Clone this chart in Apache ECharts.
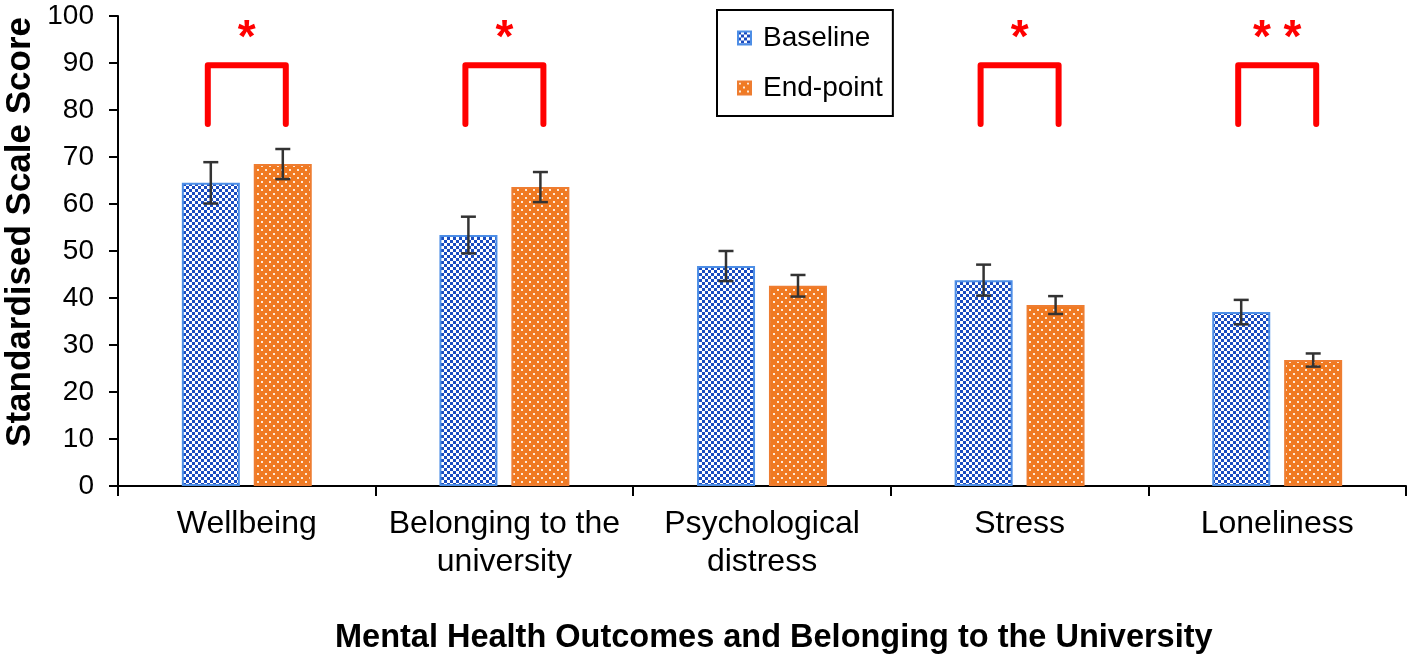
<!DOCTYPE html>
<html>
<head>
<meta charset="utf-8">
<title>Mental Health Outcomes</title>
<script src="https://cdn.jsdelivr.net/npm/echarts@6/dist/echarts.min.js"></script>
<style>
  html, body { margin: 0; padding: 0; background: #fff; }
  #chart { width: 1417px; height: 666px; }
</style>
</head>
<body>
<div id="chart"></div>
<script>
// 数据
const categories = ['Wellbeing', 'Belonging to the\nuniversity', 'Psychological\ndistress', 'Stress', 'Loneliness'];
const baseline = [64.5, 53.4, 46.8, 43.8, 37.0];
const baselineErr = [4.4, 3.9, 3.2, 3.3, 2.6];
const endpoint = [68.5, 63.6, 42.6, 38.5, 26.8];
const endpointErr = [3.2, 3.2, 2.3, 1.9, 1.4];
const sigLabels = ['*', '*', '', '*', '**'];
const bracketTop = 89.5;
const bracketLeg = 77;
const starLevel = 97;
const yTicks = { min: 0, max: 100, interval: 10 };

const FONT = '"Liberation Sans", Arial, sans-serif';
const BAR_W = 58;
const BAR_OFF = 36;   // 柱中心到类目中心的距离
const BRK_OFF = 39;

// 图案填充
function makePattern(size, draw) {
  const c = document.createElement('canvas');
  c.width = c.height = size;
  draw(c.getContext('2d'));
  return c;
}
const bluePattern = makePattern(6, function (ctx) {
  ctx.fillStyle = '#ffffff';
  ctx.fillRect(0, 0, 6, 6);
  ctx.fillStyle = '#1a4cc0';
  ctx.fillRect(0, 0, 3, 3);
  ctx.fillRect(3, 3, 3, 3);
});
const orangePattern = makePattern(8, function (ctx) {
  ctx.fillStyle = '#f07a22';
  ctx.fillRect(0, 0, 8, 8);
  ctx.fillStyle = '#fde9d8';
  ctx.fillRect(1, 1, 2, 2);
  ctx.fillRect(5, 5, 2, 2);
});

// 误差线
function errorData(vals, errs) {
  return vals.map((v, i) => [i, v - errs[i], v + errs[i]]);
}
function errorRender(offset) {
  return function (params, api) {
    const i = api.value(0);
    const lo = api.coord([i, api.value(1)]);
    const hi = api.coord([i, api.value(2)]);
    const x = lo[0] + offset;
    const cap = 7.5;
    const st = { stroke: '#333333', lineWidth: 2.5 };
    return {
      type: 'group',
      children: [
        { type: 'line', shape: { x1: x, y1: lo[1], x2: x, y2: hi[1] }, style: st },
        { type: 'line', shape: { x1: x - cap, y1: hi[1], x2: x + cap, y2: hi[1] }, style: st },
        { type: 'line', shape: { x1: x - cap, y1: lo[1], x2: x + cap, y2: lo[1] }, style: st }
      ]
    };
  };
}

// 显著性括号
const sigData = [];
sigLabels.forEach((s, i) => { if (s) sigData.push([i, bracketTop]); });

function sigRender(params, api) {
  const i = api.value(0);
  const top = api.coord([i, api.value(1)]);
  const leg = api.coord([i, bracketLeg]);
  const star = api.coord([i, starLevel]);
  const cx = top[0];
  return {
    type: 'group',
    children: [
      {
        type: 'polyline',
        shape: { points: [[cx - BRK_OFF, leg[1]], [cx - BRK_OFF, top[1]], [cx + BRK_OFF, top[1]], [cx + BRK_OFF, leg[1]]] },
        style: { stroke: '#ff0000', lineWidth: 6, fill: null, lineCap: 'round', lineJoin: 'round' }
      },
      {
        type: 'text',
        style: {
          x: cx, y: star[1] + 9,
          text: sigLabels[i].split('').join(' '),
          fill: '#ff0000',
          font: 'bold 46px ' + FONT,
          align: 'center', verticalAlign: 'middle'
        }
      }
    ]
  };
}

const chart = echarts.init(document.getElementById('chart'));
const option = {
  animation: false,
  grid: { left: 118, right: 11, top: 16, bottom: 180 },
  legend: {
    data: ['Baseline', 'End-point'],
    orient: 'vertical',
    left: 717,
    top: 10,
    padding: [14, 10, 14, 20],
    itemGap: 22,
    itemWidth: 13,
    itemHeight: 13,
    icon: 'rect',
    borderColor: '#000',
    borderWidth: 2,
    textStyle: { fontSize: 28, color: '#000', fontFamily: FONT, padding: [0, 0, 0, 7] }
  },
  xAxis: {
    type: 'category',
    data: categories,
    axisLine: { lineStyle: { color: '#000', width: 2 } },
    axisTick: { show: true, length: 10, lineStyle: { color: '#000', width: 2 } },
    axisLabel: { color: '#000', fontSize: 32, fontFamily: FONT, lineHeight: 38, margin: 19, interval: 0 }
  },
  yAxis: {
    type: 'value',
    min: yTicks.min,
    max: yTicks.max,
    interval: yTicks.interval,
    splitLine: { show: false },
    axisLine: { show: true, lineStyle: { color: '#000', width: 2 } },
    axisTick: { show: true, length: 9, lineStyle: { color: '#000', width: 2 } },
    axisLabel: { color: '#000', fontSize: 28, fontFamily: FONT, margin: 24 }
  },
  graphic: [
    {
      type: 'text',
      left: 3,
      top: 17,
      rotation: Math.PI / 2,
      style: { text: 'Standardised Scale Score', font: 'bold 35px ' + FONT, fill: '#000' }
    },
    {
      type: 'text',
      left: 335,
      top: 622,
      style: { text: 'Mental Health Outcomes and Belonging to the University', font: 'bold 32.5px ' + FONT, fill: '#000' }
    }
  ],
  series: [
    {
      name: 'Baseline',
      type: 'bar',
      barWidth: BAR_W,
      barGap: '24%',
      data: baseline,
      itemStyle: { color: { image: bluePattern, repeat: 'repeat' }, borderColor: '#4d8ee6', borderWidth: 2 }
    },
    {
      name: 'End-point',
      type: 'bar',
      barWidth: BAR_W,
      data: endpoint,
      itemStyle: { color: { image: orangePattern, repeat: 'repeat' }, borderColor: '#ee7d31', borderWidth: 2 }
    },
    {
      name: 'baselineErr',
      type: 'custom',
      renderItem: errorRender(-BAR_OFF),
      data: errorData(baseline, baselineErr),
      encode: { x: 0, y: [1, 2] },
      z: 5
    },
    {
      name: 'endpointErr',
      type: 'custom',
      renderItem: errorRender(BAR_OFF),
      data: errorData(endpoint, endpointErr),
      encode: { x: 0, y: [1, 2] },
      z: 5
    },
    {
      name: 'significance',
      type: 'custom',
      renderItem: sigRender,
      data: sigData,
      encode: { x: 0, y: 1 },
      z: 6
    }
  ]
};
chart.setOption(option);

window.addEventListener('resize', function () {
  chart.resize();
});
</script>
</body>
</html>
